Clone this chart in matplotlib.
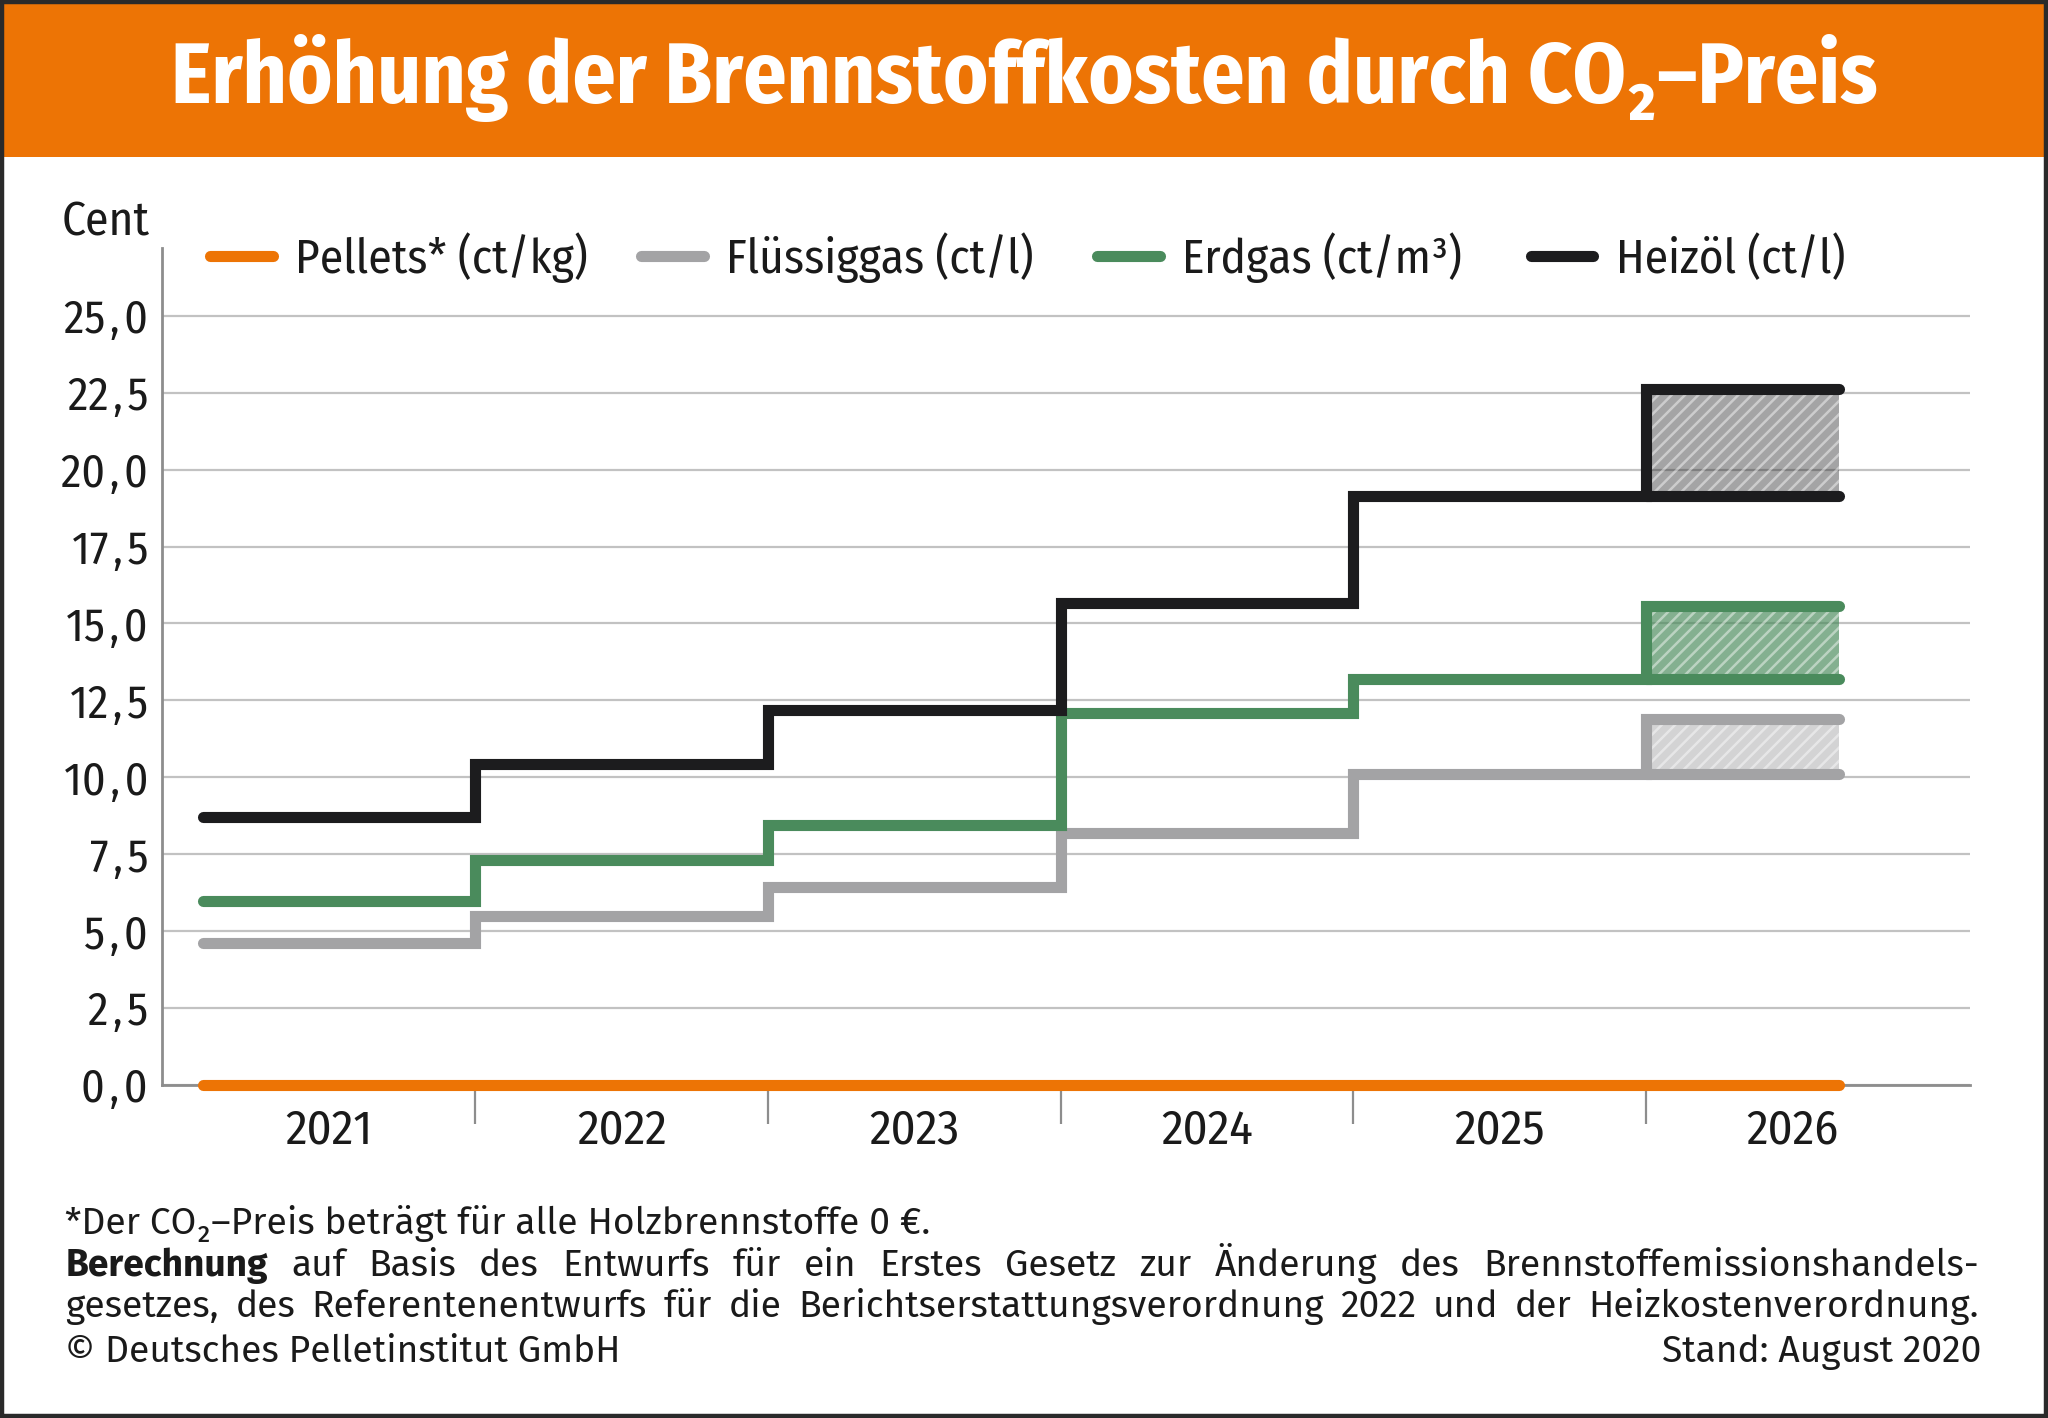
import matplotlib
matplotlib.use("Agg")
import matplotlib.pyplot as plt
from matplotlib.patches import Rectangle
from matplotlib.lines import Line2D
from matplotlib.colors import to_rgb

COND = ['Fira Sans Condensed', 'IBM Plex Sans Condensed', 'PT Sans Narrow', 'DejaVu Sans']
WIDE = ['Fira Sans', 'Fira Sans Condensed', 'DejaVu Sans']
plt.rcParams['font.family'] = COND
plt.rcParams['hatch.linewidth'] = 0.9

# Data: CO2 price surcharge in cent per unit, 2021-2025 plus 2026 corridor (low/high)
years = ['2021', '2022', '2023', '2024', '2025', '2026']
pellets = [0, 0, 0, 0, 0, 0]
fluessiggas = [4.63, 5.48, 6.45, 8.19, 10.1]
erdgas = [5.98, 7.30, 8.45, 12.1, 13.2]
heizoel = [8.70, 10.44, 12.18, 15.66, 19.14]
fluessiggas_2026 = (10.1, 11.88)
erdgas_2026 = (13.2, 15.58)
heizoel_2026 = (19.14, 22.62)
yticks = [0, 2.5, 5, 7.5, 10, 12.5, 15, 17.5, 20, 22.5, 25]

ORANGE = '#ED7405'
GRAY = '#A3A3A5'
GREEN = '#4A8B5C'
BLACK = '#1C1C1E'
TXT = '#1a1a1a'

W, H = 1568, 1086  # layout measured on this grid

fig = plt.figure(figsize=(10.24, 7.09), dpi=200)
fig.patch.set_facecolor('white')
renderer = fig.canvas.get_renderer()
figw = fig.get_figwidth() * fig.dpi

# header band and frame
fig.patches.append(Rectangle((0, 1 - 120 / H), 1, 120 / H, transform=fig.transFigure,
                             facecolor=ORANGE, edgecolor='none', zorder=0))
fig.patches.append(Rectangle((0.001, 0.0015), 0.998, 0.997, transform=fig.transFigure,
                             facecolor='none', edgecolor='#2a2a2a', lw=1.6, zorder=5))
fig.text(0.5, 1 - 79 / H, 'Erhöhung der Brennstoffkosten durch CO₂–Preis',
         color='white', fontsize=30.7, fontweight='bold', ha='center', va='baseline')

ax = fig.add_axes([124 / W, 1 - 831 / H, (1508 - 124) / W, (831 - 190) / H])
start, end = 0.07, 5.66
ax.set_xlim(-16 / 224, (1508 - 140) / 224)
ax.set_ylim(0, 27.2)

lw = 4.0
edges = [start, 1, 2, 3, 4, 5, end]


def series(vals, rng, color, alpha, z):
    y = list(vals) + [rng[1], rng[1]]
    ax.step(edges, y, where='post', color=color, lw=lw, solid_capstyle='round',
            solid_joinstyle='miter', zorder=z)
    ax.plot([5, end], [rng[0], rng[0]], color=color, lw=lw, solid_capstyle='round', zorder=z)
    ax.fill_between([5, end], rng[0], rng[1], facecolor=(*to_rgb(color), alpha),
                    edgecolor=(1, 1, 1, 0.45), hatch='/////', linewidth=0, zorder=2)


series(fluessiggas, fluessiggas_2026, GRAY, 0.47, 4)
series(erdgas, erdgas_2026, GREEN, 0.68, 5)
series(heizoel, heizoel_2026, BLACK, 0.40, 6)
ax.step(edges, pellets + [pellets[-1]], where='post', color=ORANGE, lw=lw,
        solid_capstyle='round', zorder=7, clip_on=False)

# axes styling
for s in ['top', 'right']:
    ax.spines[s].set_visible(False)
for s in ['left', 'bottom']:
    ax.spines[s].set_color('#8d8d8d')
    ax.spines[s].set_linewidth(1.0)
ax.yaxis.grid(True, which='major', color='#c2c2c2', lw=0.8)
ax.set_axisbelow(True)
ax.set_yticks(yticks)
ax.set_yticklabels([f'{v:.1f}'.replace('.', '\u200a,\u200a') for v in yticks])
ax.tick_params(axis='y', length=0, pad=5, labelsize=16.5, labelcolor=TXT)

ax.set_xticks([1, 2, 3, 4, 5])
ax.set_xticklabels([])
ax.set_xticks([i + 0.5 for i in range(6)], minor=True)
ax.set_xticklabels(years, minor=True)
ax.tick_params(axis='x', which='major', length=14, width=0.8, color='#8d8d8d', direction='out')
ax.tick_params(axis='x', which='minor', length=0, pad=8, labelsize=17.5, labelcolor=TXT)

fig.text(47 / W, 1 - 180 / H, 'Cent', fontsize=17, color=TXT, ha='left', va='baseline')

# legend drawn on the figure
legend = [('Pellets* (ct/kg)', ORANGE, 157), ('Flüssiggas (ct/l)', GRAY, 487),
          ('Erdgas (ct/m³)', GREEN, 836), ('Heizöl (ct/l)', BLACK, 1168)]
ly = 1 - 196 / H
for label, color, x0 in legend:
    fig.add_artist(Line2D([(x0 + 4) / W, (x0 + 52) / W], [ly, ly], color=color, lw=lw,
                          solid_capstyle='round', transform=fig.transFigure))
    fig.text((x0 + 69) / W, 1 - 209 / H, label, fontsize=17, color=TXT,
             ha='left', va='baseline')

# footnotes: size fitted so the first line spans as in the reference
fs = 12.2
t1 = fig.text(50 / W, 1 - 945 / H, '*Der CO₂–Preis beträgt für alle Holzbrennstoffe 0 €.',
              fontsize=fs, color=TXT, ha='left', va='baseline', family=WIDE)
fs = fs * ((713 - 50) / W * figw) / t1.get_window_extent(renderer).width
t1.set_fontsize(fs)


def justified(words, yb, x0, x1):
    arts = []
    for w, bold in words:
        t = fig.text(0, 1 - yb / H, w, fontsize=fs, color=TXT, ha='left', va='baseline',
                     fontweight='bold' if bold else 'normal', family=WIDE)
        arts.append(t)
    widths = [t.get_window_extent(renderer).width for t in arts]
    gap = ((x1 - x0) / W * figw - sum(widths)) / (len(arts) - 1)
    x = x0 / W * figw
    for t, wd in zip(arts, widths):
        t.set_x(x / figw)
        x += wd + gap


line1 = 'Berechnung auf Basis des Entwurfs für ein Erstes Gesetz zur Änderung des Brennstoffemissionshandels-'
line2 = ('gesetzes, des Referentenentwurfs für die Berichtserstattungsverordnung 2022 '
         'und der Heizkostenverordnung.')
justified([(w, i == 0) for i, w in enumerate(line1.split(' '))], 977, 50, 1515)
justified([(w, False) for w in line2.split(' ')], 1009, 50, 1515)

fig.text(50 / W, 1 - 1043 / H, '© Deutsches Pelletinstitut GmbH', fontsize=fs, color=TXT,
         ha='left', va='baseline', family=WIDE)
fig.text(1517 / W, 1 - 1043 / H, 'Stand: August 2020', fontsize=fs, color=TXT,
         ha='right', va='baseline', family=WIDE)

fig.savefig('out.png', dpi=200, facecolor='white')
